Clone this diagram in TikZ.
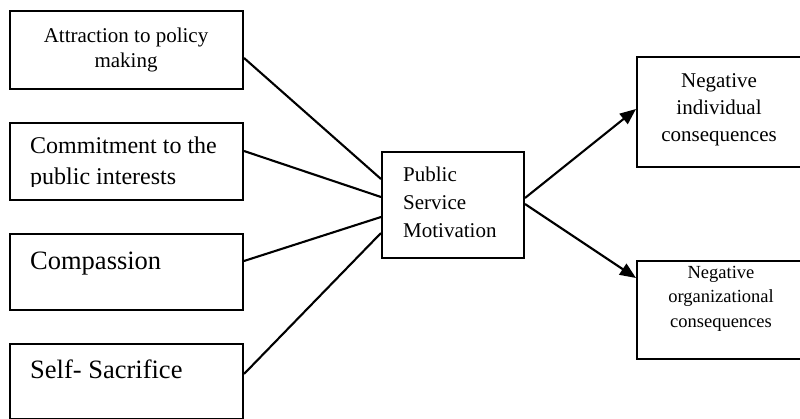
\documentclass[tikz,border=0pt]{standalone}
\usepackage{fontspec}
\setmainfont{Liberation Serif}
\usetikzlibrary{arrows.meta}
\tikzset{
    box/.style={draw, line width=2pt, inner sep=0pt, anchor=north west},
    lbl/.style={inner sep=0pt, anchor=base west, align=left},
    clbl/.style={inner sep=0pt, anchor=base, align=center},
    link/.style={line width=2.1pt},
    flow/.style={line width=2.1pt, -{Triangle[length=16pt,width=13pt]}}
}
\newcommand{\fsz}[2]{\fontsize{#1}{#2}\selectfont}
\begin{document}
\begin{tikzpicture}[x=1pt, y=-1pt]
        \useasboundingbox (0,0) rectangle (800,419);
        \clip (0,0) rectangle (800,419);
        \node[box, minimum width=233pt, minimum height=78pt] (attr) at (9,10) {};
        \node[box, minimum width=233pt, minimum height=77pt] (commit) at (9,122) {};
        \node[box, minimum width=233pt, minimum height=76pt] (comp) at (9,233) {};
        \node[box, minimum width=233pt, minimum height=75pt] (self) at (9,343) {};
        \node[box, minimum width=142pt, minimum height=106pt] (psm) at (381,151) {};
        \node[box, minimum width=167pt, minimum height=110pt] (indiv) at (636,56) {};
        \node[box, minimum width=167pt, minimum height=98pt] (org) at (636,260) {};
        \node[clbl, font=\fsz{21}{25}] (attrtxt) at (126,68) {Attraction to policy\\making};
        \begin{scope}
            \clip (9,122) rectangle (242,187);
            \node[lbl, font=\fsz{24}{31}] (committxt) at (30,185) {Commitment to the\\public interests};
        \end{scope}
        \node[lbl, font=\fsz{26.5}{30}] (comptxt) at (30,270) {Compassion};
        \node[lbl, font=\fsz{26.5}{30}] (selftxt) at (30,378) {Self- Sacrifice};
        \node[lbl, font=\fsz{21}{28}] (psmtxt) at (403,238) {Public\\Service\\Motivation};
        \node[clbl, font=\fsz{21}{27}] (indivtxt) at (719,142) {Negative\\individual\\consequences};
        \node[clbl, font=\fsz{18.5}{25}] (orgtxt) at (721,328) {Negative\\organizational\\consequences};
        \draw[link] ([yshift=-8pt]attr.east) -- ([yshift=26pt]psm.west);
        \draw[link] ([yshift=10.5pt]commit.east) -- ([yshift=8pt]psm.west);
        \draw[link] ([yshift=11pt]comp.east) -- ([yshift=-12pt]psm.west);
        \draw[link] ([yshift=7.5pt]self.east) -- ([yshift=-28pt]psm.west);
        \draw[flow] ([yshift=7pt]psm.east) -- ([yshift=3pt]indiv.west);
        \draw[flow] ([yshift=1pt]psm.east) -- ([yshift=32pt]org.west);
\end{tikzpicture}
\end{document}
